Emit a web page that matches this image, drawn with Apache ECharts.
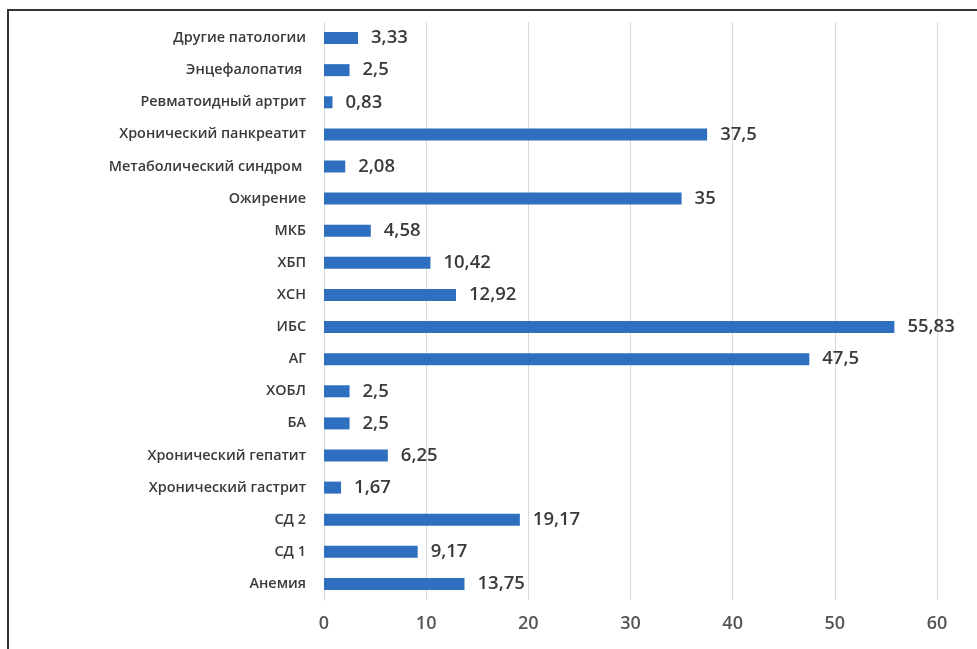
<!DOCTYPE html>
<html><head><meta charset="utf-8">
<script src="https://cdn.jsdelivr.net/npm/echarts@6/dist/echarts.min.js"></script>
<style>html,body{margin:0;padding:0;background:#fff}#c{width:977px;height:649px}</style>
</head><body><div id="c"></div>
<script>
const categories = ['Анемия','СД 1','СД 2','Хронический гастрит','Хронический гепатит','БА','ХОБЛ','АГ','ИБС','ХСН','ХБП','МКБ','Ожирение','Метаболический синдром ','Хронический панкреатит','Ревматоидный артрит','Энцефалопатия ','Другие патологии'];
const values = [13.75,9.17,19.17,1.67,6.25,2.5,2.5,47.5,55.83,12.92,10.42,4.58,35,2.08,37.5,0.83,2.5,3.33];
const xTicks = [0,10,20,30,40,50,60];
const chart = echarts.init(document.getElementById('c'), null, {renderer:'canvas'});
const font = '"Open Sans", "Noto Sans", sans-serif';
chart.setOption({
  animation:false,
  graphic:[{type:'rect',shape:{x:8,y:10,width:1100,height:800},style:{fill:'none',stroke:'#333',lineWidth:2},silent:true}],
  grid:{left:324,right:40,top:22,bottom:49,containLabel:false},
  xAxis:{type:'value',min:xTicks[0],max:xTicks[xTicks.length-1],interval:10,
    axisLine:{show:false},axisTick:{show:false},
    axisLabel:{color:'#555555',fontSize:18,fontWeight:600,fontFamily:font,margin:15},
    splitLine:{lineStyle:{color:'#d9d9d9',width:1}}},
  yAxis:{type:'category',data:categories,
    axisLine:{show:true,lineStyle:{color:'#d9d9d9'}},axisTick:{show:false},
    axisLabel:{color:'#3a3a3a',fontSize:14.4,fontWeight:600,fontFamily:font,margin:18}},
  series:[{type:'bar',data:values,barWidth:12,itemStyle:{color:'#2e6fbf'},
    label:{show:true,position:'right',distance:13,color:'#3a3a3a',fontSize:18.5,fontWeight:600,fontFamily:font,
      formatter:p=>String(p.value).replace('.',',')}}]
});
</script></body></html>
